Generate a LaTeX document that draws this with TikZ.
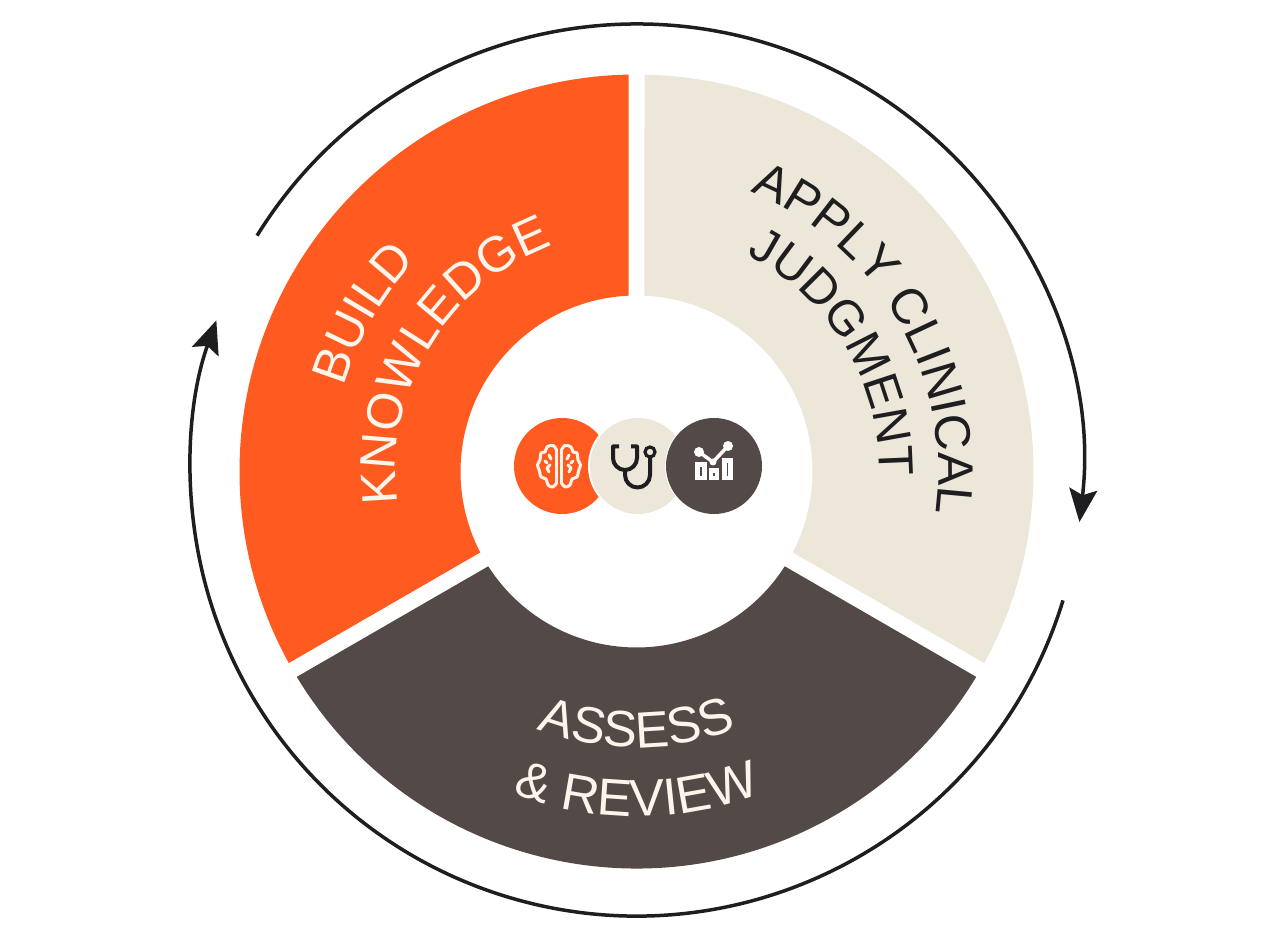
\documentclass[tikz,border=0pt]{standalone}
\usepackage{fontspec}
\setmainfont{Liberation Sans}
\usetikzlibrary{arrows.meta,decorations.text}
\definecolor{orangeC}{HTML}{FF5A1F}
\definecolor{beigeC}{HTML}{ECE7D8}
\definecolor{darkC}{HTML}{534946}
\definecolor{inkC}{HTML}{1E1E20}
\definecolor{creamC}{HTML}{FBF5EC}
\newcommand{\sectorfill}[5]{\fill[#1] ([shift={(#2:397pt)}]C) arc[start angle=#2,end angle=#3,radius=397pt]
  -- ([shift={(#4:176pt)}]C) arc[start angle=#4,end angle=#5,radius=176pt] -- cycle;}
\newcommand{\lblfont}[1]{\fontsize{#1pt}{#1pt}\selectfont}
\newcommand{\arctext}[6]{\path[decorate,decoration={text along path,text align=center,
   text color=#1,text={|\lblfont{#6}|#5}}]
   ([shift={(#3:#2pt)}]C) arc[start angle=#3,end angle=#4,radius=#2pt];}
\tikzset{
  ringline/.style={draw=inkC,line width=3.5pt,line cap=butt},
  ringtip/.style={-{Stealth[length=33pt,width=28pt,inset=6pt]}},
  brainline/.style={draw=creamC,line width=3pt,line cap=round,line join=round},
  scopeline/.style={draw=inkC,line width=4pt,line cap=butt,line join=round},
  chartline/.style={draw=white,line width=4.5pt,line join=miter},
  dotC/.style={fill=white},
}
\begin{document}
\begin{tikzpicture}[x=1pt,y=1pt]
\useasboundingbox (0,0) rectangle (1280,946);
\fill[white] (0,0) rectangle (1280,946);
\coordinate (C) at (636.5,474.5);
\coordinate (R) at (636.5,476);
% sectors
\sectorfill{orangeC}{91.155}{208.845}{207.4}{92.6}
\sectorfill{beigeC}{88.845}{-28.845}{-27.4}{87.4}
\sectorfill{darkC}{211.155}{328.845}{327.4}{212.6}
% ring arrows
\coordinate (a1) at ([shift={(148.3:446pt)}]R);
\coordinate (a2) at ([shift={(-17:446pt)}]R);
\draw[ringline,ringtip] (a1) arc[start angle=148.3,end angle=-6.7,radius=446pt];
\draw[ringline,ringtip] (a2) arc[start angle=-17,end angle=-199.6,radius=446pt];
% labels
\arctext{creamC}{305}{195}{105}{BUILD}{50}
\arctext{creamC}{241}{200}{98}{KNOWLEDGE}{50}
\arctext{inkC}{302}{85}{-25}{APPLY CLINICAL}{50}
\arctext{inkC}{243}{85}{-23}{JUDGMENT}{49}
\arctext{creamC}{276}{235}{305}{ASSESS}{51}
\arctext{creamC}{345}{240}{300}{{\&} REVIEW}{52}
% icons
\begin{scope}[yshift=946pt,y=-1pt]
  \fill[orangeC] (562,466) circle[radius=48pt];
  \fill[white] (638,466) circle[radius=50pt];
  \fill[beigeC] (638,466) circle[radius=48pt];
  \fill[white] (714,466) circle[radius=49pt];
  \fill[darkC] (714,466) circle[radius=48pt];
  % brain
  \begin{scope}[shift={(559,466)}]
    \foreach \s in {1,-1}{
      \begin{scope}[xscale=\s]
        \draw[brainline] plot[smooth,tension=.65] coordinates {(2.5,-16) (6,-20.5) (12,-19) (14,-14) (18,-13) (19,-6) (21.5,-1) (19.5,5) (18,11) (13,13) (11,19) (6,21) (2.5,17)};
        \draw[brainline] (2.5,-16) -- (2.5,17);
        \draw[brainline] (10,-11) -- (8,-7);
        \draw[brainline] (9,-1) -- (12,2) -- (10,6);
        \draw[brainline] (14,-5) -- (12,-3);
      \end{scope}}
  \end{scope}
  % stethoscope
  \draw[scopeline] (619,446.5) -- (613,446.5) -- (613,458) arc[start angle=180,delta angle=180,radius=12pt] -- (637,446.5) -- (631,446.5);
  \draw[scopeline] (625,470) -- (625,475) arc[start angle=180,delta angle=180,radius=12.5pt] -- (650,458);
  \draw[draw=inkC,line width=3.2pt] (650,452) circle[radius=5pt];
  % chart
  \draw[white,line width=3.5pt] (699,452) -- (713,462) -- (728,446);
  \fill[dotC] (699,452) circle[radius=5pt] (713,462) circle[radius=3.5pt] (728,446) circle[radius=5pt];
  \draw[chartline] (697.5,464.5) rectangle (704.5,478);
  \draw[chartline] (711,470.5) rectangle (717,478);
  \draw[chartline] (724.5,460.5) rectangle (730.5,478);
\end{scope}
\end{tikzpicture}
\end{document}
